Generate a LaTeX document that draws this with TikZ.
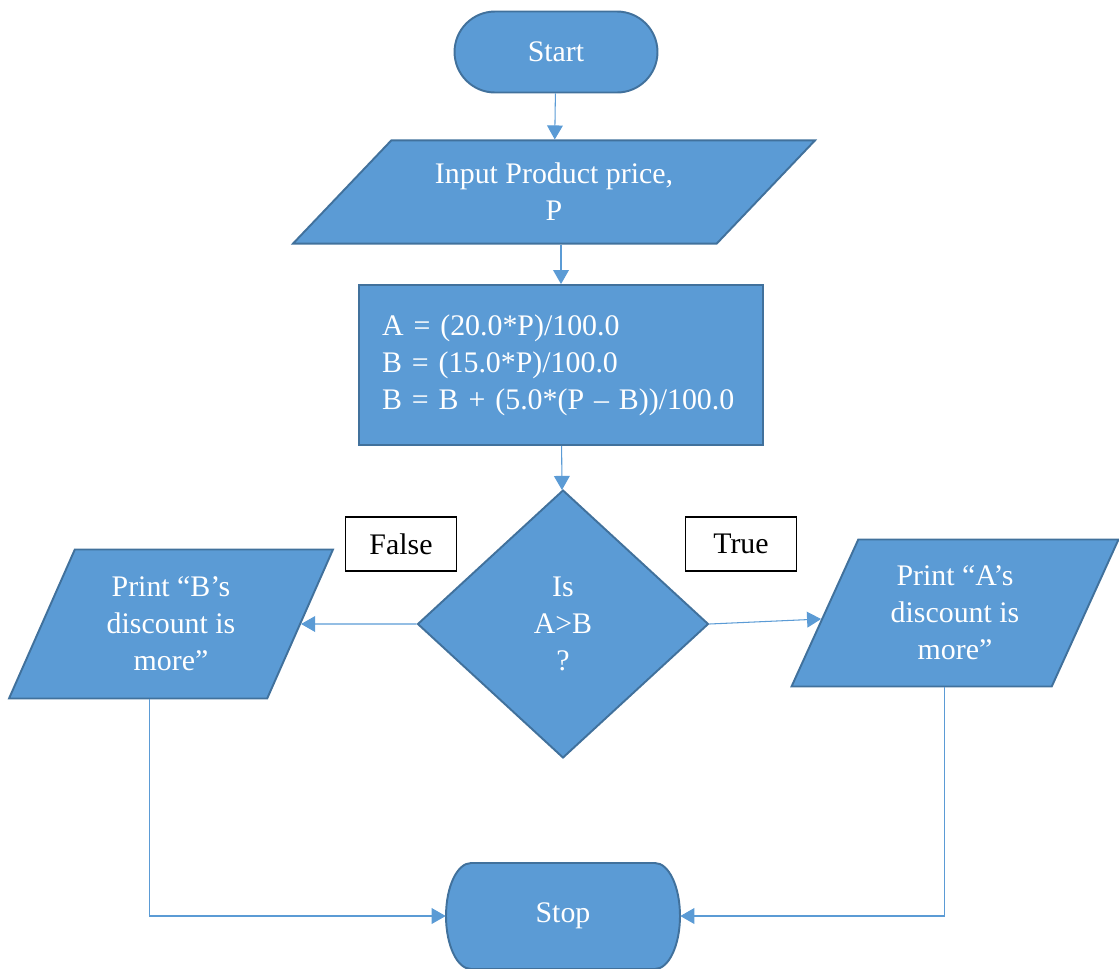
\documentclass[tikz,border=0pt]{standalone}
\usepackage{fontspec}
\setmainfont{Liberation Serif}
\usetikzlibrary{calc}
\usetikzlibrary{arrows.meta}
\usetikzlibrary{shapes.geometric}
\definecolor{boxblue}{HTML}{5B9BD5}
\definecolor{rimblue}{HTML}{41719C}

\tikzset{
  blockbase/.style={fill=boxblue, draw=rimblue, line width=1.1pt, text=white,
    font=\fontsize{17}{21}\selectfont, align=center, inner sep=0pt},
  termbox/.style={blockbase, rectangle, minimum width=4.06cm, minimum height=1.62cm, rounded corners=0.81cm},
  iobox/.style={blockbase, trapezium, trapezium stretches body},
  procbox/.style={blockbase, rectangle, align=left, text width=7.16cm, inner xsep=0.46cm, minimum height=3.2cm},
  decbox/.style={blockbase, diamond, minimum width=5.82cm, minimum height=5.36cm},
  tagbox/.style={draw=black, line width=0.8pt, fill=white, text=black,
    font=\fontsize{17}{21}\selectfont, minimum width=2.22cm, minimum height=1.08cm, inner sep=0pt},
  stopspot/.style={text=white, font=\fontsize{17}{21}\selectfont, minimum width=4.68cm, minimum height=2.12cm, inner sep=0pt},
  link/.style={draw=boxblue, line width=0.6pt, -{Triangle[length=8pt,width=9pt]}}
}

\begin{document}
\begin{tikzpicture}[x=0.02cm, y=-0.02cm]
\useasboundingbox (0,0) rectangle (1119,968);

\coordinate (stopc) at (563,916);

\node[termbox] (start) at (556,52) {Start};
\node[iobox, trapezium left angle=46.4, trapezium right angle=133.6, inner ysep=0.455cm, minimum width=10.44cm, minimum height=2.06cm] (input) at (554,192) {Input Product price,\\P};
\node[procbox] (calc) at (561,365) {A = (20.0*P)/100.0\\B = (15.0*P)/100.0\\B = B + (5.0*(P – B))/100.0};
\node[decbox] (test) at (563,624) {Is\\A>B\\?};
\node[tagbox] (falsetag) at (401,544) {False};
\node[tagbox] (truetag) at (741,544) {True};
\node[iobox, trapezium left angle=66.1, trapezium right angle=113.9, inner ysep=0.545cm, minimum width=6.48cm, minimum height=2.98cm] (printb) at (171,624) {Print “B’s\\discount is\\more”};
\node[iobox, trapezium left angle=65.5, trapezium right angle=114.5, inner ysep=0.525cm, minimum width=6.54cm, minimum height=2.94cm] (printa) at (955,613) {Print “A’s\\discount is\\more”};

\draw[blockbase] ([shift={(-92,-53)}]stopc) -- ([shift={(92,-53)}]stopc)
  arc[start angle=90, end angle=-90, x radius=0.5cm, y radius=1.06cm]
  -- ([shift={(-92,53)}]stopc)
  arc[start angle=270, end angle=90, x radius=0.5cm, y radius=1.06cm] -- cycle;
\node[stopspot] (stop) at (stopc) {Stop};

\draw[link] (start) -- (input);
\draw[link] (calc.north |- input.south) -- (calc.north);
\draw[link] (calc) -- (test);
\draw[link] (test.west) -- (printb);
\draw[link] (test.east) -- (printa);
\draw[link] ($(printb.bottom left corner)!0.545!(printb.bottom right corner)$) |- (stop.west);
\draw[link] ($(printa.bottom left corner)!0.588!(printa.bottom right corner)$) |- (stop.east);

\end{tikzpicture}
\end{document}
